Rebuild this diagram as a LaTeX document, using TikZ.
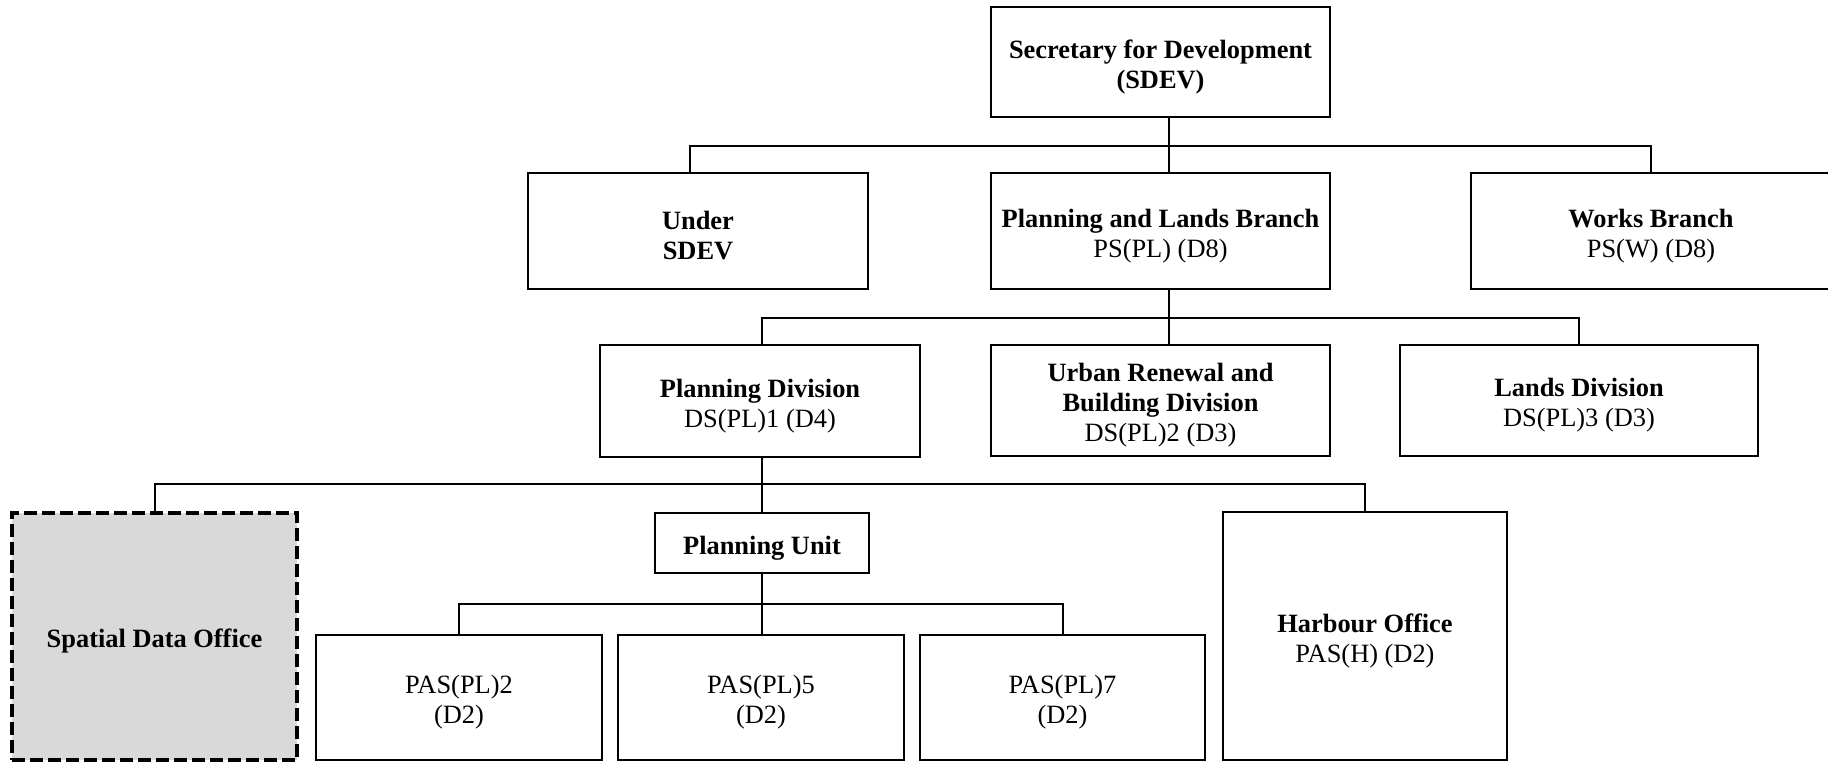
\documentclass[tikz,border=0pt]{standalone}
\usepackage{fontspec}
\setmainfont{Liberation Serif}
\definecolor{sdogray}{RGB}{217,217,217}
\newcommand{\topline}{\rule{0pt}{14pt}}
\tikzset{
  box/.style={draw, line width=1pt, align=center, inner sep=0pt,
    font=\fontsize{13.2}{15}\selectfont},
  dashbox/.style={box, fill=sdogray, line width=1.6pt, dash pattern=on 6.5pt off 2.5pt},
  link/.style={line width=1pt},
}

\begin{document}
\begin{tikzpicture}[x=0.5pt,y=-0.5pt]
    \clip (0,0) rectangle (1828,763);
    % level 1 and 2
    \node[box, minimum width=169.5pt, minimum height=55pt] (sdev) at (1160.5,62) {\topline\textbf{Secretary for Development}\\\textbf{(SDEV)}};
    \node[box, minimum width=170pt, minimum height=58pt] (under) at (698,231) {\topline\textbf{Under}\\\textbf{SDEV}};
    \node[box, minimum width=169.5pt, minimum height=58pt] (plb) at (1160.5,231) {\topline\textbf{Planning and Lands Branch}\\PS(PL) (D8)};
    \node[box, minimum width=180pt, minimum height=58pt] (works) at (1651,231) {\topline\textbf{Works Branch}\\PS(W) (D8)};
    % level 3
    \node[box, minimum width=160pt, minimum height=56pt] (pd) at (760,401) {\topline\textbf{Planning Division}\\DS(PL)1 (D4)};
    \node[box, minimum width=169.5pt, minimum height=55.5pt] (urb) at (1160.5,400.5) {\topline\textbf{Urban Renewal and}\\\textbf{Building Division}\\DS(PL)2 (D3)};
    \node[box, minimum width=179pt, minimum height=55.5pt] (lands) at (1579,400.5) {\topline\textbf{Lands Division}\\DS(PL)3 (D3)};
    % level 4
    \node[dashbox, minimum width=142.5pt, minimum height=123.5pt] (sdo) at (154.5,636.5) {\topline\textbf{Spatial Data Office}};
    \node[box, minimum width=107pt, minimum height=30pt] (pu) at (762,543) {\topline\textbf{Planning Unit}};
    \node[box, minimum width=142pt, minimum height=124pt] (harb) at (1365,636) {\topline\textbf{Harbour Office}\\PAS(H) (D2)};
    % level 5
    \node[box, minimum width=143pt, minimum height=62.5pt] (pas2) at (459,697.5) {\topline PAS(PL)2\\(D2)};
    \node[box, minimum width=143pt, minimum height=62.5pt] (pas5) at (761,697.5) {\topline PAS(PL)5\\(D2)};
    \node[box, minimum width=142.5pt, minimum height=62.5pt] (pas7) at (1062.5,697.5) {\topline PAS(PL)7\\(D2)};

    \coordinate (bus1) at (1169,146);
    \coordinate (bus2) at (1169,318);
    \coordinate (bus3) at (762,484);
    \coordinate (bus4) at (762,604);

    \draw[link] (sdev.south -| bus1) -- (plb.north -| bus1);
    \draw[link] ([xshift=-4pt]under.north) |- (bus1) -| (works.north);
    \draw[link] (plb.south -| bus2) -- (urb.north -| bus2);
    \draw[link] ([xshift=1pt]pd.north) |- (bus2) -| (lands.north);
    \draw[link] (pd.south -| bus3) -- (pu.north);
    \draw[link] (sdo.north) |- (bus3) -| (harb.north);
    \draw[link] (pu.south) -- (pu.south |- pas5.north);
    \draw[link] (pas2.north) |- (bus4) -| (pas7.north);
\end{tikzpicture}
\end{document}
